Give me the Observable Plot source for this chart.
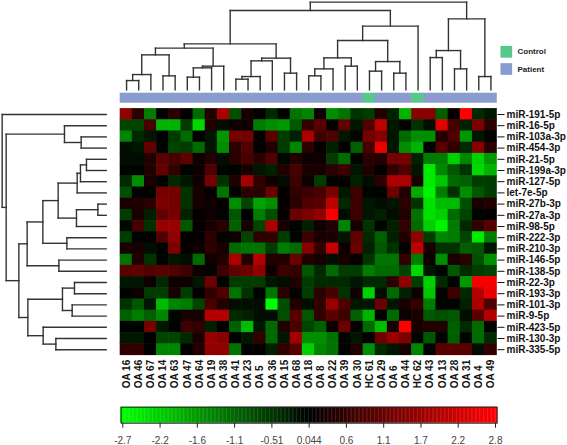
<!DOCTYPE html>
<html><head><meta charset="utf-8">
<script src="https://cdn.jsdelivr.net/npm/d3@7"></script>
<script src="https://cdn.jsdelivr.net/npm/@observablehq/plot@0.6"></script>
<style>html,body{margin:0;padding:0;background:#fff}svg{display:block}</style>
</head><body><div id="chart"></div>
<script>
const samples = ["OA 16","OA 46","OA 67","OA 14","OA 63","OA 47","OA 64","OA 19","OA 38","OA 41","OA 23","OA 5","OA 36","OA 15","OA 68","OA 18","OA 8","OA 22","OA 39","OA 30","HC 61","OA 29","OA 6","OA 44","HC 62","OA 43","OA 13","OA 28","OA 31","OA 4","OA 49"];
const mirnas = ["miR-191-5p","miR-16-5p","miR-103a-3p","miR-454-3p","miR-21-5p","miR-199a-3p","miR-127-5p","let-7e-5p","miR-27b-3p","miR-27a-3p","miR-98-5p","miR-222-3p","miR-210-3p","miR-146-5p","miR-138-5p","miR-22-3p","miR-193-3p","miR-101-3p","miR-9-5p","miR-423-5p","miR-130-3p","miR-335-5p"];
const values = [
[1.6,.5,-1.3,.1,.5,.1,-1.1,.4,1.9,-.8,.3,.1,-.4,0,-1.2,-1.4,.2,-1.5,-1.2,-.5,-.6,.4,-.3,-1.9,1.5,1.5,-1,.1,2.8,-.4,-.2],
[-.7,-.7,.8,-1.9,-1.9,-.6,-2.3,.4,-.1,.2,.2,-1.3,-1.5,-1.6,-.9,.6,1,.1,1.1,-.2,.9,2.1,-.2,.1,-.5,-.1,2.5,.8,-.3,1.4,.5],
[-1.4,-.4,-.2,.05,-.6,-1.1,.05,-.2,-1.6,1.3,1.3,.05,1,-.6,-.3,1.9,.7,.9,-.2,0,1.3,1.5,-.2,-1.1,-1.5,-1.5,.4,.9,-1.6,-.2,0],
[-.1,-.2,1.1,0,-.7,-.6,-1.1,-.2,-1.5,.5,.9,0,.4,-.6,-1.4,.5,.1,-.3,.1,-1,.8,2.6,-.2,-1.5,-1.9,.05,1,.6,-.4,1.5,.5],
[-.1,-.1,.4,1,.8,1.1,.2,.4,-.1,.5,.8,.5,.9,-.05,.4,.2,.2,-.6,-1.1,0,.5,.4,1.3,1.3,-.3,-1.3,-1.3,-2.2,-1.4,-2.2,-1.6],
[0,0,.4,1.1,.6,0,.2,.9,0,0,.3,-.2,-.3,.4,.8,.3,.3,.5,.7,-.2,.4,.1,.6,.9,-.2,-2.5,-1.4,-.9,-.5,-2.3,-1.9],
[-.4,-1.5,.3,0,-.4,-.2,.2,1.3,-.5,.4,1.8,.6,.2,-.1,.7,.2,-.6,0,.1,-.3,-.1,.5,1.9,1.9,.3,-2.5,-2.1,-1.1,-1,-.6,-.6],
[-.8,0,0,1.3,1.3,-.5,.3,.1,-1.2,0,.5,.5,1.2,.1,.6,.7,.8,1.4,-.2,.7,0,0,1.2,.4,-1.8,-2.6,-1.3,-.5,-1.5,-.9,-.6],
[.3,.4,.5,1.4,1.3,-.5,.3,.2,.1,-1.5,-.7,-1.7,-1.5,.1,.5,.9,1,2.1,-.4,.7,-.2,-.1,-.2,.5,-.5,-2.4,-2,-2,-.8,.3,.4],
[-.6,.3,-.3,1.1,1.3,-.3,.1,.2,0,-.9,.05,-1.3,-.8,.1,1.2,1.4,1.6,2.7,-.1,.7,-.2,-.3,-.1,.4,-1.2,-2.4,-2.2,-1.1,-.7,0,.05],
[-.05,.8,-.5,1.7,1.7,-.9,.1,.3,.5,-1,.3,-.7,1.9,.3,0,-.3,.2,.4,-1.4,.3,-.5,0,-.3,.6,-1.1,-2.2,-2.6,-1.3,-.4,.6,1],
[-.6,0,.1,.9,1.6,.1,.1,.5,0,.2,-.7,.5,.6,-.6,0,.7,.3,.3,-.2,1.1,-.4,-1,-.3,.4,1.6,-.6,-1.4,-1.3,-.7,-2.5,-1.3],
[.3,.3,-.1,0,1.4,.1,.2,.5,.3,-1.1,-1.2,-1.2,-.6,-1.3,-1.1,1.5,.6,2.2,.2,1.2,-.3,-.9,-.5,0,2.1,.3,-.5,-.5,-1,-.9,-.2],
[-1.2,.4,-.5,0,-.2,-.1,-1.1,.2,.4,1.9,.4,2,.4,.4,1.2,.4,.3,-.1,.3,.1,-.5,-1.2,-1.2,.6,-1.3,.2,-1.5,.3,.5,-.8,-1.5],
[1,1.1,.9,1,.9,.7,.2,0,.7,1.1,1.2,1.6,.2,.7,.6,-.9,-.4,-1.1,-.6,-.6,-1.3,-1.1,-1.1,-.7,-2.3,-.2,0,-.9,-.4,-.6,-.7],
[-.2,-.2,.2,-.4,.2,.2,-.2,1.2,0,-.6,-.6,-.6,-.2,-.1,.4,-.6,-.4,-.4,-.4,-.2,-.4,-.4,.5,1.6,-.6,-2.2,-.4,0,-1.6,2.7,2.7],
[0,.2,-.6,-.6,.3,-.6,.1,.6,.9,-1.2,-.5,0,-1.2,.5,0,-.6,.5,.8,-.5,.2,-2.2,-.1,-1.1,-.3,.2,-2.1,0,.7,-.4,2,2.6],
[-.5,-.9,-.2,-2,-1.4,-1.3,-.7,.8,.4,-.1,-.1,-.1,-2.7,-.8,.4,-.1,.6,1.7,.9,-.2,-.2,1.2,-.2,.3,.6,-1.3,0,0,-.3,1.9,.9],
[-1,-1.3,-1,-1.4,0,.3,.3,2,2,-.4,-.3,-.1,-.1,-.8,1,-.9,.6,1,.7,-1,-1.9,0,-1.1,.2,.3,-.9,-.8,-.9,-.1,1,2],
[0,0,1.3,-.2,0,.7,.6,-.3,.05,-1,-2,-.2,-1.1,.4,.8,-.7,-1,.2,1.2,.1,-1.1,-2,.3,2.8,.3,.4,.4,-1,-.4,-1.1,0],
[-.2,-.2,.05,-.7,-.7,-.4,.3,1.7,1.5,.05,-.2,.6,-1.1,-.2,1.8,-1.5,-1.5,-1.2,0,-.2,.1,1.2,1.7,1.4,0,-.9,0,-1,0,-1.1,-.4],
[.6,.6,0,-1.4,-1.4,.1,.4,1.6,1.6,-1.2,0,.1,-.3,.6,1,-2.2,-1.4,-1.2,0,.4,-1.5,-.4,-.2,.3,-1.4,0,1,1,1,-.1,.6]
];
// dendrograms: [height, childA, childB]; a number is a leaf index
const columnTree = [87.7,
  [79.3,
    [46,
      [41.7,
        [35,[15.3,[9.3,0,1],2],[14,3,4]],
        [23.7,[22,[12.7,5,6],7],8]],
      [31.7,[29,[13.3,[10.7,9,10],11],12],[16.7,13,14]]],
    [63.7,
      [49.3,
        [32,[21,[14,15,16],17],[23.7,18,19]],
        [28.3,[18.7,20,21],[16.7,22,23]]],
      24]],
  [71,
    [39.3,[32.3,25,26],[21,27,28]],
    [13.3,29,30]]];
const rowTree = [104,
  0,
  [100,
    [41.7,1,[25,2,3]],
    [87.3,
      [79,
        [63.3,
          [48,
            [29,[25.7,[19.7,4,5],6],7],
            [29.7,[8.3,8,9],10]],
          [39.3,11,12]],
        [47.3,13,14]],
      [78.3,
        [43.7,[31.7,15,16],[34,17,18]],
        [63,19,[50.3,20,21]]]]]];
const colorTicks = [-2.726,-2.172,-1.618,-1.064,-0.51,0.044,0.598,1.152,1.706,2.26,2.814];
const colorTickLabels = ["-2.7","-2.2","-1.6","-1.1","-0.51","0.044","0.6","1.1","1.7","2.2","2.8"];
const groupNames = ["Control","Patient"];

const FONT = "'Liberation Sans', Arial, sans-serif";
const colX = 12.145, rowY = 11.2;            // px per column / row
const groupColor = {Control:"#55c88c", Patient:"#8a9ccf"};
const color = {type:"linear", domain:[-2.726,0.044,2.814], range:["#00ff00","#000000","#ff0000"], interpolate:"rgb", clamp:true};

const cells = values.flatMap((r,i)=>r.map((v,j)=>({row:i,col:j,v})));
const groupOf = s => s.startsWith("HC") ? "Control" : "Patient";

function flatten(node, out){
  if (typeof node === "number") return {p:node+.5, h:0};
  const [h,a,b] = node;
  const A = flatten(a,out), B = flatten(b,out);
  out.push({p1:A.p,h1:A.h,p2:A.p,h2:h},{p1:B.p,h1:B.h,p2:B.p,h2:h},{p1:A.p,h1:h,p2:B.p,h2:h});
  return {p:(A.p+B.p)/2,h};
}
const topSeg=[]; flatten(columnTree,topSeg);
const leftSeg=[]; flatten(rowTree,leftSeg);
const topBase=-1.7, leftBase=-1.18;
const ty=h=>topBase-h/rowY, lx=h=>leftBase-h/colX;
const treeStyle={stroke:"#333",strokeWidth:1.4,strokeLinecap:"square"};

// offsets of the group key from the frame's top-left corner
const keyDy={Control:-57.1,Patient:-39.9};

const main = Plot.plot({
  width:567,height:395,
  marginLeft:120,marginRight:70.5,marginTop:108.4,marginBottom:40.2,
  style:{fontFamily:FONT,background:"#fff",color:"#111"},
  x:{domain:[0,31],axis:null},
  y:{domain:[0,22],reverse:true,axis:null},
  color,
  marks:[
    Plot.rect(cells,{x1:d=>d.col,x2:d=>d.col+1,y1:d=>d.row,y2:d=>d.row+1,fill:"v",inset:-0.3}),
    Plot.rect(samples,{x1:(d,i)=>i,x2:(d,i)=>i+1,y1:-1.4,y2:-0.51,fill:d=>groupColor[groupOf(d)],insetLeft:-0.3,insetRight:-0.3}),
    Plot.link(topSeg,{x1:"p1",x2:"p2",y1:d=>ty(d.h1),y2:d=>ty(d.h2),...treeStyle}),
    Plot.link(leftSeg,{y1:"p1",y2:"p2",x1:d=>lx(d.h1),x2:d=>lx(d.h2),...treeStyle}),
    Plot.axisX({anchor:"bottom",ticks:samples.map((_,i)=>i+.5),tickFormat:d=>samples[d-.5],tickSize:0,tickRotate:-90,textAnchor:"start",tickPadding:33,fontSize:10,fontWeight:"bold",label:null,lineAnchor:"middle"}),
    Plot.axisY({anchor:"right",ticks:mirnas.map((_,i)=>i+.5),tickFormat:d=>mirnas[d-.5],tickSize:7,tickPadding:2.5,fontSize:10,fontWeight:"bold",label:null}),
    ...groupNames.map(g=>Plot.dot([g],{frameAnchor:"top-left",dx:385.8,dy:keyDy[g],symbol:"square",r:6.6,fill:groupColor[g]})),
    ...groupNames.map(g=>Plot.text([g],{frameAnchor:"top-left",dx:397,dy:keyDy[g],text:d=>d,fontSize:8,fontWeight:"bold",fill:"#222",textAnchor:"start",lineAnchor:"middle"}))
  ]
});

const bar = Plot.plot({
  width:567,height:50,
  marginLeft:120.7,marginRight:70.3,marginTop:11.7,marginBottom:22.3,
  style:{fontFamily:FONT,background:"#fff"},
  x:{domain:[-2.726,2.814],range:[122.3,495],axis:null},
  y:{axis:null},
  color,
  marks:[
    Plot.rect(d3.range(-2.76,2.84,0.02),{x1:d=>d,x2:d=>d+0.025,fill:d=>d}),
    Plot.frame({stroke:"#222",strokeWidth:1}),
    Plot.axisX({ticks:colorTicks,tickFormat:(d,i)=>colorTickLabels[i],tickSize:5,tickPadding:9,fontSize:10,label:null,color:"#444",stroke:"#222"})
  ]
});

document.getElementById("chart").append(main,bar);
</script></body></html>
